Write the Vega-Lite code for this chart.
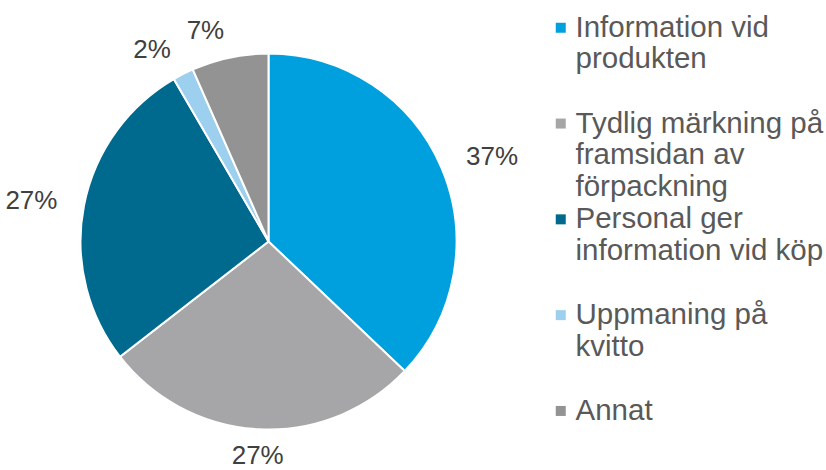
{
  "$schema": "https://vega.github.io/schema/vega-lite/v6.json",
  "width": 537,
  "height": 457,
  "autosize": {"type": "none"},
  "padding": {"top": 13, "left": 0, "right": 289, "bottom": 0},
  "background": "white",
  "config": {"view": {"stroke": null}, "font": "Liberation Sans"},
  "data": {
    "values": [
      {"idx": 1, "category": "Information vid produkten", "value": 37.1, "label": "37%"},
      {"idx": 2, "category": "Tydlig märkning på framsidan av förpackning", "value": 27.4, "label": "27%"},
      {"idx": 3, "category": "Personal ger information vid köp", "value": 27.1, "label": "27%"},
      {"idx": 4, "category": "Uppmaning på kvitto", "value": 1.8, "label": "2%"},
      {"idx": 5, "category": "Annat", "value": 6.6, "label": "7%"}
    ]
  },
  "encoding": {
    "theta": {"field": "value", "type": "quantitative", "stack": true},
    "order": {"field": "idx", "type": "quantitative"}
  },
  "layer": [
    {
      "mark": {"type": "arc", "outerRadius": 188, "stroke": "white", "strokeWidth": 2},
      "encoding": {
        "color": {
          "field": "category",
          "type": "nominal",
          "scale": {
            "domain": ["Information vid produkten", "Tydlig märkning på framsidan av förpackning", "Personal ger information vid köp", "Uppmaning på kvitto", "Annat"],
            "range": ["#00A0DE", "#A6A6A8", "#006A8E", "#9DCFEE", "#939393"]
          },
          "legend": {
            "title": null,
            "orient": "none",
            "legendX": 546,
            "legendY": 0,
            "padding": 0,
            "symbolType": "square",
            "symbolSize": 100,
            "symbolStrokeWidth": 0,
            "labelFontSize": 29.5,
            "labelColor": "#595959",
            "labelFont": "Liberation Sans",
            "labelLimit": 400,
            "labelOffset": 0,
            "labelBaseline": "middle",
            "labelLineHeight": 33,
            "gridAlign": "all",
            "rowPadding": 1.8,
            "labelExpr": "datum.label == 'Information vid produkten' ? ['Information vid', 'produkten'] : datum.label == 'Tydlig märkning på framsidan av förpackning' ? ['Tydlig märkning på', 'framsidan av', 'förpackning'] : datum.label == 'Personal ger information vid köp' ? ['Personal ger', 'information vid köp'] : datum.label == 'Uppmaning på kvitto' ? ['Uppmaning på', 'kvitto'] : datum.label"
          }
        }
      }
    },
    {
      "mark": {
        "type": "text",
        "radius": 215,
        "fontSize": 26,
        "color": "#404040",
        "font": "Liberation Sans",
        "baseline": "middle",
        "align": {"expr": "datum.idx == 1 ? 'left' : datum.idx == 2 ? 'center' : 'right'"}
      },
      "encoding": {
        "text": {"field": "label", "type": "nominal"}
      }
    }
  ]
}
